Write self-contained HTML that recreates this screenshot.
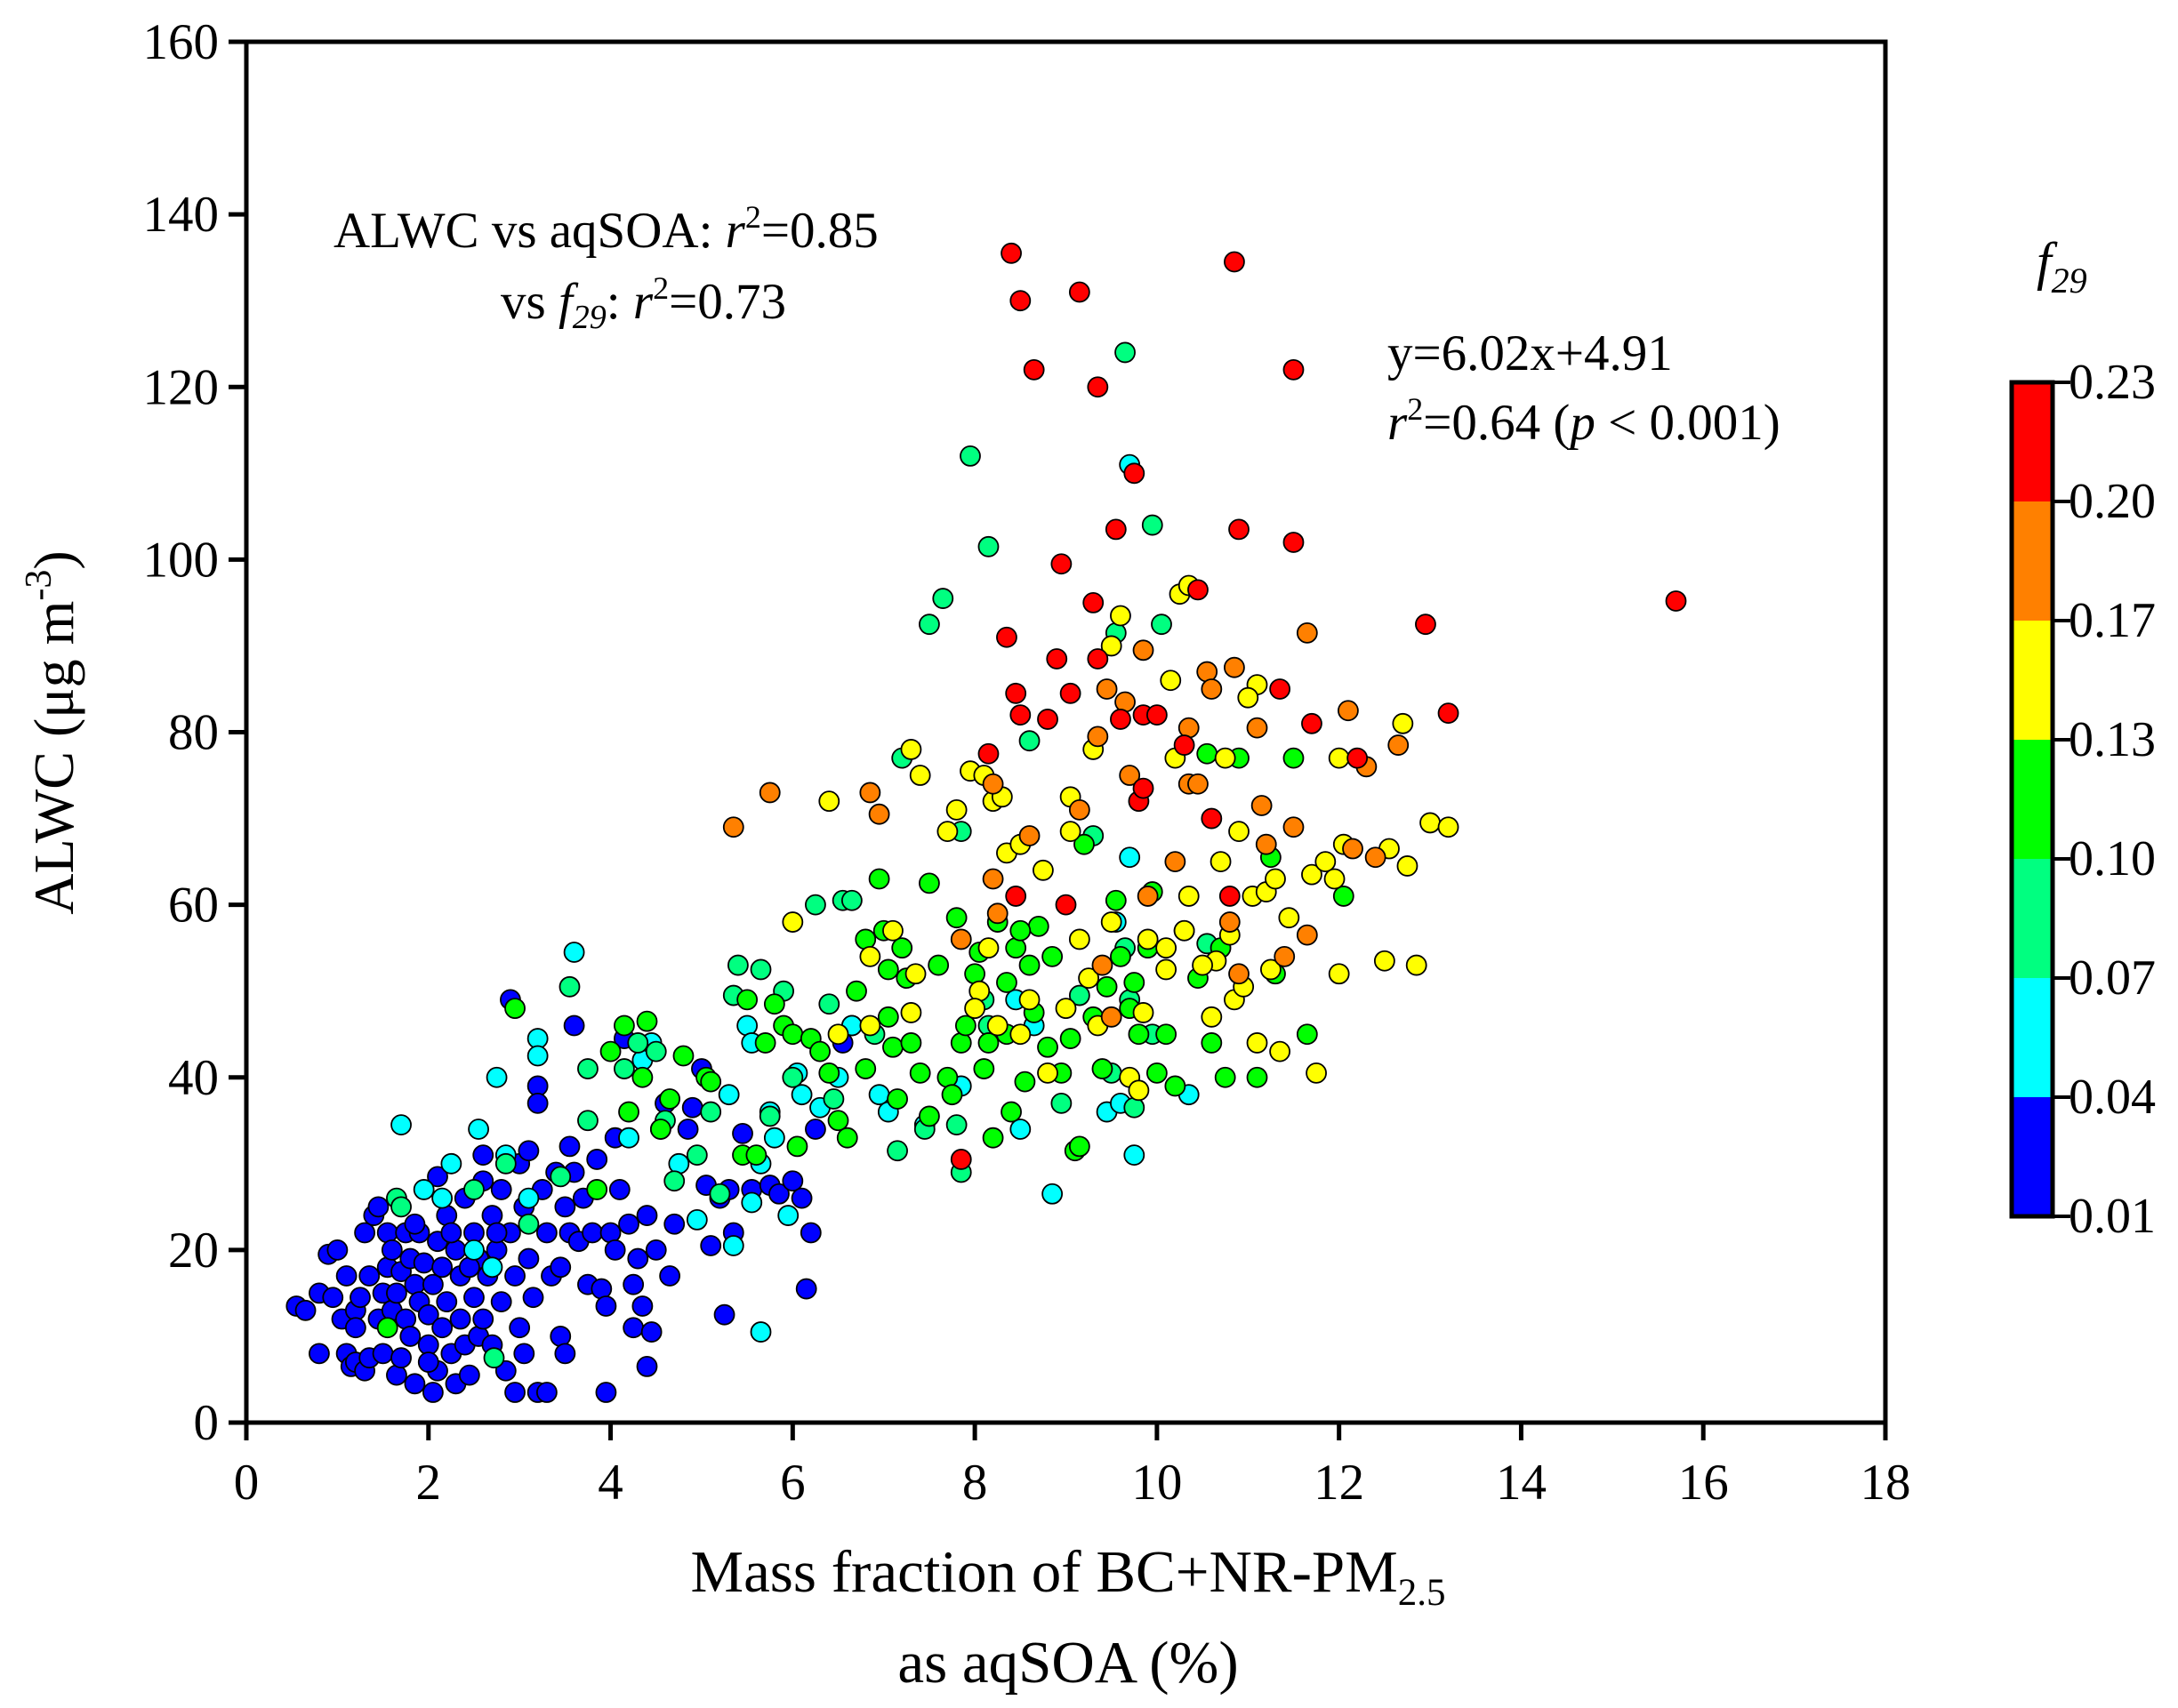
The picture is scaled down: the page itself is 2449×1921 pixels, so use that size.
<!DOCTYPE html>
<html><head><meta charset="utf-8"><style>
html,body{margin:0;padding:0;background:#fff}
svg{display:block;font-family:"Liberation Serif",serif}
</style></head><body>
<svg id="chart" width="2449" height="1921" viewBox="0 0 2449 1921">
<g id="points"></g>
<g id="axes"></g>
<text x="375" y="278" font-size="57">ALWC vs aqSOA: <tspan font-style="italic">r</tspan><tspan font-size="36" dy="-22">2</tspan><tspan dy="22">=0.85</tspan></text>
<text x="563" y="358" font-size="57">vs <tspan font-style="italic">f</tspan><tspan font-style="italic" font-size="38" dy="11">29</tspan><tspan dy="-11">: </tspan><tspan font-style="italic">r</tspan><tspan font-size="36" dy="-22">2</tspan><tspan dy="22">=0.73</tspan></text>
<text x="1560" y="416" font-size="57">y=6.02x+4.91</text>
<text x="1560" y="494" font-size="57"><tspan font-style="italic">r</tspan><tspan font-size="36" dy="-22">2</tspan><tspan dy="22">=0.64 (</tspan><tspan font-style="italic">p</tspan> &lt; 0.001)</text>
<text transform="translate(82,824) rotate(-90)" text-anchor="middle" font-size="64">ALWC (μg m<tspan font-size="42" dy="-25">-3</tspan><tspan dy="25">)</tspan></text>
<text x="1201" y="1790" text-anchor="middle" font-size="67">Mass fraction of BC+NR-PM<tspan font-size="43" dy="15">2.5</tspan></text>
<text x="1201" y="1892" text-anchor="middle" font-size="67">as aqSOA (%)</text>
<g id="cbar"></g>
<text x="2290" y="314" font-size="60" font-style="italic">f<tspan font-size="40" dy="15">29</tspan></text>
</svg>
<script>
const xTicks=[0,2,4,6,8,10,12,14,16,18];
const yTicks=[0,20,40,60,80,100,120,140,160];
const cbarTicks=["0.01","0.04","0.07","0.10","0.13","0.17","0.20","0.23"];
const cbarColors=["#0000ff","#00ffff","#00ff80","#00ff00","#ffff00","#ff8000","#ff0000"];
const redPts=[[8.4,135.5],[8.5,130],[8.65,122],[9.15,131],[9.35,120],[10.85,134.5],[11.5,122],[9.75,110],[9.55,103.5],[10.9,103.5],[11.5,102],[8.95,99.5],[10.45,96.5],[9.3,95],[15.7,95.2],[12.95,92.5],[8.35,91],[8.9,88.5],[9.35,88.5],[8.45,84.5],[9.05,84.5],[11.35,85],[8.5,82],[8.8,81.5],[9.6,81.5],[9.85,82],[10.0,82],[11.7,81],[13.2,82.2],[12.2,77],[8.15,77.5],[10.3,78.5],[9.8,72],[9.85,73.5],[10.8,61],[9.0,60],[10.6,70],[8.45,61],[7.85,30.5]];
const orangePts=[[5.35,69],[5.75,73],[6.85,73],[6.95,70.5],[7.85,56],[8.2,63],[8.25,59],[9.15,71],[9.35,79.5],[9.45,85],[9.65,83.5],[9.85,89.5],[10.35,80.5],[10.35,74],[10.55,87],[10.6,85],[10.85,87.5],[11.1,80.5],[11.15,71.5],[11.5,69],[11.65,91.5],[11.65,56.5],[11.4,54],[12.1,82.5],[12.15,66.5],[12.3,76],[12.65,78.5],[12.4,65.5],[9.5,47],[10.2,65],[9.7,75],[10.45,74],[8.2,74],[8.6,68],[9.9,61],[10.9,52],[9.4,53],[11.2,67],[10.8,58]];
const yellowPts=[[6.4,72],[6.0,58],[6.5,45],[6.85,54],[7.1,57],[7.3,78],[7.4,75],[7.35,52],[7.7,68.5],[7.8,71],[7.95,75.5],[8.1,75],[8.2,72],[8.3,72.5],[8.35,66],[8.5,67],[8.75,64],[8.05,50],[8.0,48],[8.25,46],[8.5,45],[8.8,40.5],[9.0,48],[9.05,72.5],[9.05,68.5],[9.15,56],[9.25,51.5],[9.3,78],[9.35,46],[9.5,90],[9.6,93.5],[9.7,40],[9.8,38.5],[9.85,47.5],[9.9,56],[10.1,55],[10.15,86],[10.2,77],[10.25,96],[10.35,97],[10.3,57],[10.35,61],[10.6,47],[10.65,53.5],[10.7,65],[10.75,77],[10.8,56.5],[10.85,49],[10.9,68.5],[10.95,50.5],[11.05,61],[11.1,85.5],[11.1,44],[11.2,61.5],[11.25,52.5],[11.3,63],[11.35,43],[11.45,58.5],[11.7,63.5],[11.75,40.5],[11.85,65],[11.95,63],[12.0,77],[12.0,52],[12.05,67],[12.5,53.5],[12.55,66.5],[12.75,64.5],[12.7,81],[12.85,53],[13.0,69.5],[13.2,69],[10.1,52.5],[9.5,58],[8.6,49],[7.3,47.5],[6.85,46],[8.15,55],[11.0,84],[10.5,53]];
const greenPts=[[2.95,48],[4.0,43],[4.15,46],[4.4,46.5],[4.65,37.5],[4.8,42.5],[5.05,40],[5.1,39.5],[5.5,49],[5.7,44],[5.8,48.5],[5.9,46],[6.0,45],[6.2,44.5],[6.3,43],[6.4,40.5],[6.5,35],[6.6,33],[6.7,50],[6.8,56],[6.95,63],[7.0,57],[7.05,47],[7.1,43.5],[7.15,37.5],[7.2,55],[7.25,51.5],[7.3,44],[7.4,40.5],[7.5,35.5],[7.6,53],[7.7,40],[7.75,38],[7.8,58.5],[7.85,44],[7.9,46],[8.0,52],[8.05,54.5],[8.1,41],[8.15,44],[8.2,33],[8.25,58],[8.35,51],[8.4,36],[8.45,55],[8.55,39.5],[8.6,53],[8.65,47.5],[8.7,57.5],[8.8,43.5],[8.85,54],[8.95,40.5],[9.05,44.5],[9.1,31.5],[9.15,32],[9.3,47],[9.45,50.5],[9.55,60.5],[9.6,54],[9.7,48],[9.75,51],[9.8,45],[9.9,55],[9.95,61.5],[10.0,40.5],[10.1,45],[10.2,39],[10.3,57],[10.45,51.5],[10.6,44],[10.7,55],[10.75,40],[10.9,77],[11.1,40],[11.5,77],[11.65,45],[12.05,61],[11.3,52],[11.25,65.5],[6.8,41],[7.05,52.5],[7.5,62.5],[8.35,45],[9.4,41],[5.45,31],[4.2,36],[4.35,40],[4.55,34],[5.6,31],[6.05,32],[8.5,57],[9.2,67],[10.55,77.5],[1.55,11],[3.85,27]];
const springPts=[[1.65,26],[2.5,27],[3.1,23],[3.55,50.5],[3.75,35],[4.15,41],[4.3,44],[4.6,35],[4.7,28],[4.95,31],[5.1,36],[5.35,49.5],[5.4,53],[5.65,52.5],[5.9,50],[6.0,40],[6.25,60],[6.55,60.5],[6.65,60.5],[7.2,77],[7.5,92.5],[7.65,95.5],[7.95,112],[8.15,101.5],[8.6,79],[9.15,49.5],[9.55,91.5],[9.65,124],[9.95,104],[10.05,92.5],[7.85,68.5],[9.3,68],[7.8,34.5],[6.4,48.5],[6.9,45],[7.15,31.5],[8.15,46],[8.95,37],[9.5,40.5],[9.65,55],[9.75,36.5],[7.85,29],[3.75,41],[4.5,43],[5.2,26.5],[5.75,35.5],[6.45,37.5],[7.45,34],[8.1,49],[9.95,45],[10.55,55.5],[9.7,49],[2.85,30],[1.7,25],[3.45,28.5],[2.72,7.5]];
const cyanPts=[[1.7,34.5],[2.25,30],[2.55,34],[2.75,40],[2.85,31],[3.2,44.5],[3.2,42.5],[3.6,54.5],[4.2,33],[4.35,42],[4.45,44],[4.55,34],[4.75,30],[5.3,38],[5.5,46],[5.55,44],[5.75,36],[5.8,33],[5.65,10.5],[5.35,20.5],[5.55,25.5],[5.95,24],[6.05,40.5],[6.1,38],[6.3,36.5],[6.65,46],[6.95,38],[7.05,36],[7.45,34.5],[7.85,39],[8.5,34],[8.45,49],[8.65,46],[8.85,26.5],[9.45,36],[9.6,37],[9.75,31],[9.7,65.5],[9.7,111],[10.35,38],[9.55,58],[1.95,27],[2.15,26],[2.5,20],[2.7,18],[3.1,26],[5.65,30],[6.5,40],[4.95,23.5]];
const bluePts=[[0.55,13.5],[0.65,13],[0.8,8],[0.8,15],[0.9,19.5],[0.95,14.5],[1.0,20],[1.05,12],[1.1,17],[1.1,8],[1.15,6.5],[1.2,13],[1.2,7],[1.25,14.5],[1.3,6],[1.3,22],[1.35,17],[1.35,7.5],[1.4,24],[1.45,12],[1.45,25],[1.5,15],[1.5,8],[1.55,18],[1.55,22],[1.6,13],[1.6,20],[1.65,5.5],[1.65,15],[1.7,7.5],[1.7,17.5],[1.75,12],[1.75,22],[1.8,10],[1.8,19],[1.85,16],[1.85,4.5],[1.9,14],[1.9,22],[1.95,18.5],[2.0,9],[2.0,12.5],[2.05,3.5],[2.05,16],[2.1,21],[2.1,6],[2.15,11],[2.15,18],[2.2,24],[2.2,14],[2.25,8],[2.3,20],[2.3,4.5],[2.35,12],[2.35,17],[2.4,26],[2.4,9],[2.45,5.5],[2.5,14.5],[2.5,22],[2.55,10],[2.55,19],[2.6,31],[2.6,12],[2.65,17],[2.7,24],[2.7,9],[2.75,20],[2.8,27],[2.8,14],[2.85,6],[2.9,22],[2.9,49],[2.95,3.5],[2.95,17],[3.0,30],[3.0,11],[3.05,25],[3.05,8],[3.1,19],[3.1,31.5],[3.15,14.5],[3.2,3.5],[3.2,39],[3.2,37],[3.25,27],[3.3,22],[3.3,3.5],[3.35,17],[3.4,29],[3.45,10],[3.5,25],[3.5,8],[3.55,22],[3.55,32],[3.6,29],[3.6,46],[3.65,21],[3.7,26],[3.75,16],[3.8,22],[3.85,30.5],[3.9,15.5],[3.95,13.5],[3.95,3.5],[4.0,22],[4.05,20],[4.05,33],[4.1,27],[4.15,44.5],[4.2,23],[4.25,16],[4.25,11],[4.3,19],[4.35,13.5],[4.4,6.5],[4.4,24],[4.45,10.5],[4.5,20],[4.6,37],[4.65,17],[4.7,23],[4.85,34],[4.9,36.5],[5.05,27.5],[5.1,20.5],[5.2,26],[5.25,12.5],[5.3,27],[5.45,33.5],[5.55,27],[5.75,27.5],[5.85,26.5],[6.0,28],[6.1,26],[6.2,22],[6.15,15.5],[6.25,34],[6.55,44],[6.65,46],[5.0,41],[5.35,22],[2.0,7],[2.6,28],[1.85,23],[2.1,28.5],[2.75,22],[3.45,18],[1.2,11],[2.45,18],[2.25,22]];

const NS="http://www.w3.org/2000/svg";
const X0=277,X1=2120,Y0=1600,Y1=47;
function sx(v){return X0+(v-0)/(18-0)*(X1-X0);}
function sy(v){return Y0-(v-0)/(160-0)*(Y0-Y1);}
function mk(tag,attrs,parent){const e=document.createElementNS(NS,tag);for(const k in attrs)e.setAttribute(k,attrs[k]);parent.appendChild(e);return e;}
const pts=document.getElementById('points');
const groups=[[bluePts,0,'blue'],[cyanPts,1,'cyan'],[springPts,2,'springgreen'],[greenPts,3,'green'],[yellowPts,4,'yellow'],[orangePts,5,'orange'],[redPts,6,'red']];
groups.forEach(([arr,ci,nm])=>{arr.forEach(p=>{
  const c=mk('circle',{cx:sx(p[0]),cy:sy(p[1]),r:11,fill:cbarColors[ci],stroke:'#000','stroke-width':1.8},pts);
  
  
});});
const ax=document.getElementById('axes');
mk('rect',{x:X0,y:Y1,width:X1-X0,height:Y0-Y1,fill:'none',stroke:'#000','stroke-width':5},ax);
xTicks.forEach(t=>{
  mk('line',{x1:sx(t),x2:sx(t),y1:Y0,y2:Y0+20,stroke:'#000','stroke-width':5},ax);
  const tx=mk('text',{x:sx(t),y:1686,'text-anchor':'middle','font-size':57},ax);
  tx.textContent=t;
  
  
});
yTicks.forEach(t=>{
  mk('line',{x1:X0-20,x2:X0,y1:sy(t),y2:sy(t),stroke:'#000','stroke-width':5},ax);
  const tx=mk('text',{x:246,y:sy(t)+19,'text-anchor':'end','font-size':57},ax);
  tx.textContent=t;
  
  
});
const cb=document.getElementById('cbar');
const CX=2262,CW=46,CT=430,CB=1368,n=cbarColors.length,h=(CB-CT)/n;
cbarColors.forEach((c,i)=>{
  const r=mk('rect',{x:CX,y:CB-(i+1)*h,width:CW,height:h,fill:c},cb);
  
  
});
mk('rect',{x:CX,y:CT,width:CW,height:CB-CT,fill:'none',stroke:'#000','stroke-width':5},cb);
cbarTicks.forEach((t,i)=>{
  const y=CB-i*h;
  mk('line',{x1:CX+CW,x2:CX+CW+20,y1:y,y2:y,stroke:'#000','stroke-width':4},cb);
  const tx=mk('text',{x:CX+CW+18,y:y+18,'font-size':56},cb);
  tx.textContent=t;
  
  
});
</script>
</body></html>
